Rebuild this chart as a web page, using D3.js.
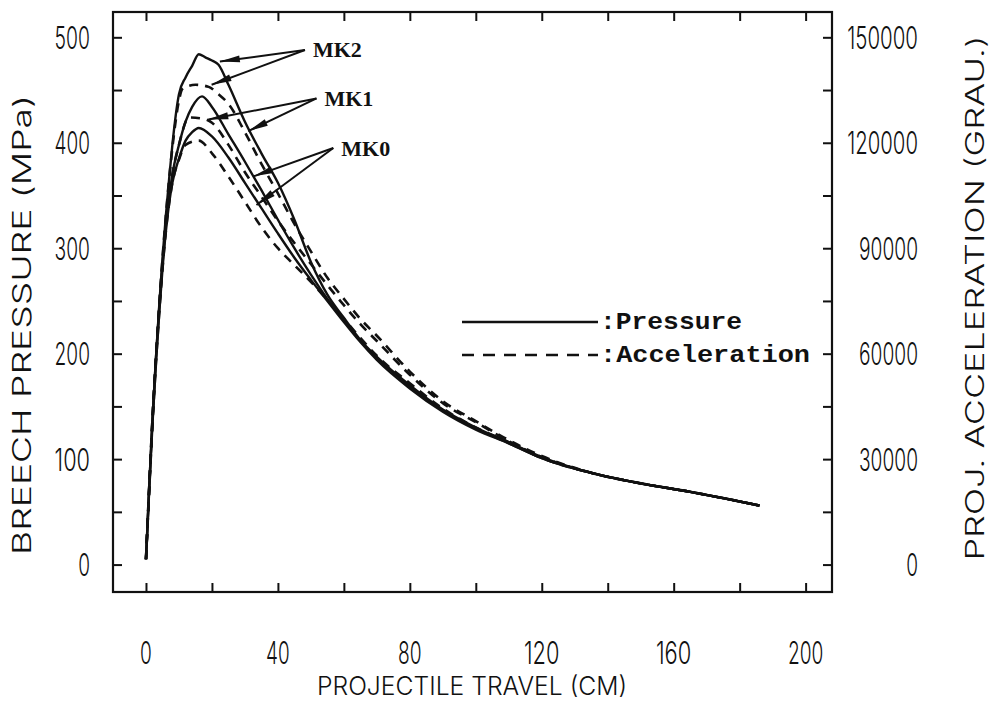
<!DOCTYPE html>
<html>
<head>
<meta charset="utf-8">
<script src="https://cdn.jsdelivr.net/npm/d3@7"></script>
<style>
  html, body { margin: 0; padding: 0; background: #fff; }
  svg { display: block; }
</style>
</head>
<body>
<svg id="chart" width="1007" height="702"></svg>
<script>
// ---------------- DATA ----------------
const xTicks = [0, 40, 80, 120, 160, 200];
const xMinorTicks = [0, 20, 40, 60, 80, 100, 120, 140, 160, 180, 200];
const yTicks = [0, 100, 200, 300, 400, 500];
const yMinorTicks = [0, 50, 100, 150, 200, 250, 300, 350, 400, 450, 500];
const y2Ticks = [0, 30000, 60000, 90000, 120000, 150000];
const y2MinorTicks = [0, 15000, 30000, 45000, 60000, 75000, 90000, 105000, 120000, 135000, 150000];

// MK2 pressure (solid)
const mk2PressureX = [0, 1, 2, 3, 4, 5, 6, 7, 8, 10, 12, 14, 16, 18, 20, 22, 25, 30, 35, 40, 45, 50, 55, 60, 65, 70, 80, 90, 100, 110, 120, 135, 150, 165, 175, 186];
const mk2Pressure  = [5, 75, 140, 195, 245, 290, 330, 365, 398, 446, 462, 473, 484, 481, 478, 474, 455, 420, 390, 362, 327, 287, 256, 234, 213, 197, 170, 147, 130, 116, 102, 87, 77, 69, 63, 56];
// MK1 pressure (solid)
const mk1PressureX = [0, 1, 2, 3, 4, 5, 6, 7, 8, 10, 12, 14, 17, 20, 25, 30, 35, 40, 45, 50, 55, 60, 65, 70, 80, 90, 100, 110, 120, 135, 150, 165, 175, 186];
const mk1Pressure  = [5, 75, 140, 195, 243, 285, 320, 348, 370, 398, 420, 434, 444, 434, 408, 382, 355, 327, 300, 275, 252, 232, 212, 196, 169, 146, 129, 115, 101, 87, 77, 69, 63, 56];
// MK0 pressure (solid)
const mk0PressureX = [0, 1, 2, 3, 4, 5, 6, 7, 8, 10, 12, 14, 16, 20, 25, 30, 35, 40, 45, 50, 55, 60, 65, 70, 80, 90, 100, 110, 120, 135, 150, 165, 175, 186];
const mk0Pressure  = [5, 72, 135, 190, 238, 280, 315, 342, 362, 385, 402, 410, 414, 406, 386, 362, 338, 314, 291, 270, 250, 230, 211, 194, 167, 145, 128, 115, 101, 87, 77, 69, 63, 56];

// Accelerations (dashed), expressed in g
const mk2AccelX = [0, 1, 2, 3, 4, 5, 6, 7, 8, 10, 11, 13, 15, 19, 22, 25, 30, 35, 40, 45, 50, 55, 60, 65, 70, 80, 90, 100, 110, 120, 135, 150, 165, 175, 186];
const mk2Accel  = [1500, 22500, 42000, 58500, 73500, 87000, 99000, 109500, 118500, 132000, 135300, 136200, 136500, 135900, 133800, 131100, 123000, 114000, 105600, 96900, 89100, 81600, 75600, 69900, 65100, 54900, 46500, 40800, 35400, 30900, 26100, 23100, 20700, 18900, 16800];
const mk1AccelX = [0, 1, 2, 3, 4, 5, 6, 7, 8, 10, 13, 17, 20, 25, 30, 35, 40, 45, 50, 55, 60, 65, 70, 80, 90, 100, 110, 120, 135, 150, 165, 175, 186];
const mk1Accel  = [1500, 22500, 42000, 58500, 72900, 85500, 96000, 104400, 111000, 119400, 127200, 126900, 125700, 119400, 111600, 104700, 97800, 91500, 85500, 79500, 73800, 68400, 63600, 54000, 45900, 40500, 35100, 30600, 26100, 23100, 20700, 18900, 16800];
const mk0AccelX = [0, 1, 2, 3, 4, 5, 6, 7, 8, 10, 12, 16, 20, 25, 30, 35, 40, 45, 50, 55, 60, 65, 70, 80, 90, 100, 110, 120, 135, 150, 165, 175, 186];
const mk0Accel  = [1500, 21600, 40500, 57000, 71400, 84000, 94500, 102600, 108600, 115200, 119400, 120600, 117000, 110400, 103200, 96000, 90000, 85200, 80400, 75300, 69900, 64500, 59400, 51600, 44400, 39000, 34800, 30300, 26100, 23100, 20700, 18900, 16800];

const gunLabels = ["MK2", "MK1", "MK0"];
const legendLabels = [":Pressure", ":Acceleration"];

// ---------------- LAYOUT ----------------
const svg = d3.select("#chart");
const pLeft = 113, pRight = 832, pTop = 12, pBottom = 592;

const x = d3.scaleLinear().domain([-10, 208]).range([pLeft, pRight]);
const y = d3.scaleLinear().domain([-26, 524]).range([pBottom, pTop]);
const y2 = d3.scaleLinear().domain([-26 * 300, 524 * 300]).range([pBottom, pTop]);

const tickFont = "Inter, 'DejaVu Sans', sans-serif";
const ink = "#111";

// frame
svg.append("rect")
  .attr("x", pLeft).attr("y", pTop)
  .attr("width", pRight - pLeft).attr("height", pBottom - pTop)
  .attr("fill", "none").attr("stroke", ink).attr("stroke-width", 2.2);

// axes with inward ticks
const tl = 9;
const gB = svg.append("g").attr("transform", `translate(0,${pBottom})`)
  .call(d3.axisTop(x).tickValues(xMinorTicks).tickSize(tl).tickFormat(""));
const gT = svg.append("g").attr("transform", `translate(0,${pTop})`)
  .call(d3.axisBottom(x).tickValues(xMinorTicks).tickSize(tl).tickFormat(""));
const gL = svg.append("g").attr("transform", `translate(${pLeft},0)`)
  .call(d3.axisRight(y).tickValues(yMinorTicks).tickSize(tl).tickFormat(""));
const gR = svg.append("g").attr("transform", `translate(${pRight},0)`)
  .call(d3.axisLeft(y2).tickValues(y2MinorTicks).tickSize(tl).tickFormat(""));
[gB, gT, gL, gR].forEach(g => {
  g.select(".domain").remove();
  g.selectAll("line").attr("stroke", ink).attr("stroke-width", 2);
});

// tick labels (narrow plotter-style digits)
const digitW = 11.8;
function tickText(sel) {
  sel.attr("dominant-baseline", "central")
    .attr("font-family", tickFont).attr("font-weight", 300)
    .attr("font-size", 31).attr("fill", ink)
    .attr("textLength", d => String(d).length * digitW)
    .attr("lengthAdjust", "spacingAndGlyphs")
    .text(d => d);
}
svg.append("g").selectAll("text").data(xTicks).join("text")
  .attr("x", d => x(d)).attr("y", 652)
  .attr("text-anchor", "middle").call(tickText);
svg.append("g").selectAll("text").data(yTicks).join("text")
  .attr("x", 90).attr("y", d => y(d))
  .attr("text-anchor", "end").call(tickText);
svg.append("g").selectAll("text").data(y2Ticks).join("text")
  .attr("x", 918).attr("y", d => y2(d))
  .attr("text-anchor", "end").call(tickText);

// axis titles
function titleText(sel, len) {
  sel.attr("text-anchor", "middle").attr("dominant-baseline", "central")
    .attr("font-family", tickFont).attr("font-weight", 300)
    .attr("font-size", 25).attr("fill", ink)
    .attr("textLength", len).attr("lengthAdjust", "spacingAndGlyphs");
}
svg.append("text")
  .attr("x", 472).attr("y", 686)
  .call(titleText, 310)
  .text("PROJECTILE TRAVEL (CM)");
svg.append("text")
  .attr("transform", "translate(22,325) rotate(-90)")
  .call(titleText, 460)
  .text("BREECH PRESSURE (MPa)");
svg.append("text")
  .attr("transform", "translate(975,298) rotate(-90)")
  .call(titleText, 525)
  .text("PROJ. ACCELERATION (GRAU.)");

// ---------------- CURVES ----------------
const lineP = d3.line().x(d => x(d[0])).y(d => y(d[1])).curve(d3.curveMonotoneX);
const lineA = d3.line().x(d => x(d[0])).y(d => y2(d[1])).curve(d3.curveMonotoneX);

const pressures = [[mk2PressureX, mk2Pressure], [mk1PressureX, mk1Pressure], [mk0PressureX, mk0Pressure]];
const accels = [[mk2AccelX, mk2Accel], [mk1AccelX, mk1Accel], [mk0AccelX, mk0Accel]];

pressures.forEach(([xs, vs]) => {
  svg.append("path")
    .attr("d", lineP(xs.map((v, i) => [v, vs[i]])))
    .attr("fill", "none").attr("stroke", ink).attr("stroke-width", 2.4)
    .attr("stroke-linejoin", "round");
});
accels.forEach(([xs, vs]) => {
  svg.append("path")
    .attr("d", lineA(xs.map((v, i) => [v, vs[i]])))
    .attr("fill", "none").attr("stroke", ink).attr("stroke-width", 2.6)
    .attr("stroke-dasharray", "9,7");
});

// ---------------- ANNOTATIONS ----------------
const annot = [
  { label: gunLabels[0], o: [48.2, 488], t: [[22.4, 477], [19.9, 455]] },
  { label: gunLabels[1], o: [51.7, 442], t: [[18.9, 422], [31.0, 411]] },
  { label: gunLabels[2], o: [56.8, 395], t: [[32.5, 368], [33.5, 341]] }
];
annot.forEach(a => {
  const ox = x(a.o[0]), oy = y(a.o[1]);
  a.t.forEach(t => {
    const tx = x(t[0]), ty = y(t[1]);
    svg.append("line")
      .attr("x1", ox).attr("y1", oy).attr("x2", tx).attr("y2", ty)
      .attr("stroke", ink).attr("stroke-width", 2);
    const ang = Math.atan2(oy - ty, ox - tx);
    const L = 20, W = 3.5;
    const bx = tx + L * Math.cos(ang), by = ty + L * Math.sin(ang);
    const nx = -Math.sin(ang) * W, ny = Math.cos(ang) * W;
    svg.append("path")
      .attr("d", `M${tx},${ty} L${bx + nx},${by + ny} L${bx - nx},${by - ny} Z`)
      .attr("fill", ink);
  });
  svg.append("text")
    .attr("x", ox + 8).attr("y", oy)
    .attr("dominant-baseline", "central")
    .attr("font-family", "'Liberation Serif', 'DejaVu Serif', serif")
    .attr("font-weight", "bold").attr("font-size", 22).attr("fill", ink)
    .text(a.label);
});

// ---------------- LEGEND ----------------
const lgX1 = 462, lgX2 = 598, lgY1 = 322, lgY2 = 355;
svg.append("line").attr("x1", lgX1).attr("x2", lgX2).attr("y1", lgY1).attr("y2", lgY1)
  .attr("stroke", ink).attr("stroke-width", 2.4);
svg.append("line").attr("x1", lgX1).attr("x2", lgX2).attr("y1", lgY2).attr("y2", lgY2)
  .attr("stroke", ink).attr("stroke-width", 2.6).attr("stroke-dasharray", "12,9");
svg.append("text").attr("x", lgX2 + 2).attr("y", lgY1)
  .attr("dominant-baseline", "central")
  .attr("font-family", "'Liberation Mono', 'DejaVu Sans Mono', monospace")
  .attr("font-weight", "bold").attr("font-size", 24).attr("fill", ink)
  .attr("textLength", 142).attr("lengthAdjust", "spacingAndGlyphs")
  .text(legendLabels[0]);
svg.append("text").attr("x", lgX2 + 2).attr("y", lgY2)
  .attr("dominant-baseline", "central")
  .attr("font-family", "'Liberation Mono', 'DejaVu Sans Mono', monospace")
  .attr("font-weight", "bold").attr("font-size", 24).attr("fill", ink)
  .attr("textLength", 210).attr("lengthAdjust", "spacingAndGlyphs")
  .text(legendLabels[1]);
</script>
</body>
</html>
